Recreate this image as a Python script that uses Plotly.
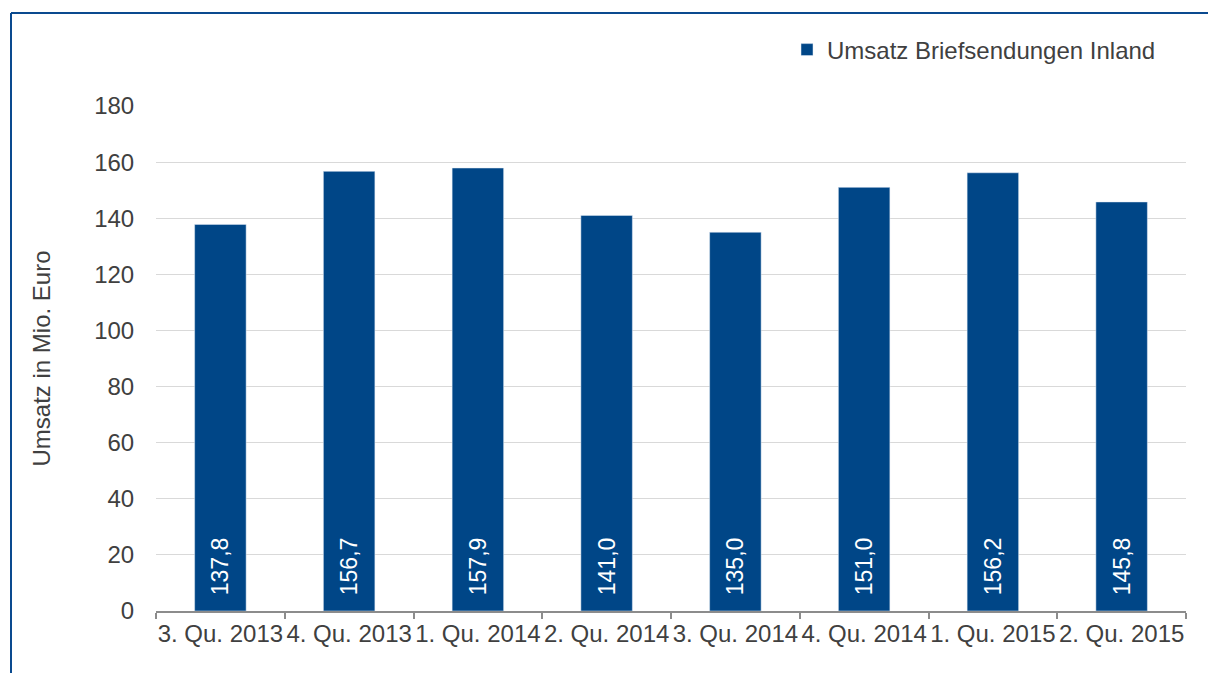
import plotly.graph_objects as go

categories = ["3. Qu. 2013", "4. Qu. 2013", "1. Qu. 2014", "2. Qu. 2014",
              "3. Qu. 2014", "4. Qu. 2014", "1. Qu. 2015", "2. Qu. 2015"]
values = [137.8, 156.7, 157.9, 141.0, 135.0, 151.0, 156.2, 145.8]
labels = ["\u00a0\u00a0" + f"{v:.1f}".replace(".", ",") for v in values]
series_name = "Umsatz Briefsendungen Inland"
y_title = "Umsatz in Mio. Euro"
y_ticks = list(range(0, 181, 20))

BAR = "#004687"
TXT = "#404040"
FONT = "Liberation Sans, Arial, sans-serif"
FS = 24

W, H = 1208, 673
ml, mr, mt, mb = 156, 22, 106, 62
pw, ph = W - ml - mr, H - mt - mb

fig = go.Figure()
fig.add_trace(go.Bar(
    x=categories, y=values, name=series_name, marker_color=BAR,
    text=labels, textposition="inside", insidetextanchor="start",
    textangle=-90, textfont=dict(color="white", size=23, family=FONT),
    showlegend=True, hoverinfo="skip",
))

def px_to_paper_x(px):
    return (px - ml) / pw

def px_to_paper_y(py):
    return (H - mb - py) / ph

fig.update_layout(
    width=W, height=H,
    margin=dict(l=ml, r=mr, t=mt, b=mb, autoexpand=False),
    paper_bgcolor="white", plot_bgcolor="white",
    font=dict(family=FONT, size=FS, color=TXT),
    bargap=0.6,
    showlegend=True,
    legend=dict(x=px_to_paper_x(1161), y=px_to_paper_y(50), xanchor="right", yanchor="middle",
                font=dict(size=FS, color=TXT), bgcolor="rgba(0,0,0,0)", itemwidth=30),
    xaxis=dict(showline=True, linecolor="#8c8c8c", linewidth=1.5, ticks="outside",
               tickson="boundaries", ticklen=6, tickcolor="#8c8c8c", tickwidth=1.5,
               tickangle=0, automargin=False,
               tickfont=dict(size=FS, color=TXT), showgrid=False),
    yaxis=dict(range=[0, 180], tickvals=y_ticks, showgrid=True, gridcolor="#d9d9d9",
               gridwidth=1, zeroline=False, showline=False, ticks="outside",
               ticklen=16, tickcolor="rgba(0,0,0,0)", automargin=False,
               tickfont=dict(size=FS, color=TXT),
               title=dict(text=y_title, font=dict(size=FS, color=TXT), standoff=36)),
    shapes=[
        dict(type="line", xref="paper", yref="paper",
             x0=px_to_paper_x(11), x1=px_to_paper_x(1215),
             y0=px_to_paper_y(13), y1=px_to_paper_y(13),
             line=dict(color="#0a4a8f", width=2)),
        dict(type="line", xref="paper", yref="paper",
             x0=px_to_paper_x(11), x1=px_to_paper_x(11),
             y0=px_to_paper_y(13), y1=px_to_paper_y(680),
             line=dict(color="#0a4a8f", width=2)),
    ],
)

fig.write_html("out.html", config={"displayModeBar": False},
               post_script="document.body.style.margin='0';document.body.style.overflow='hidden';")
